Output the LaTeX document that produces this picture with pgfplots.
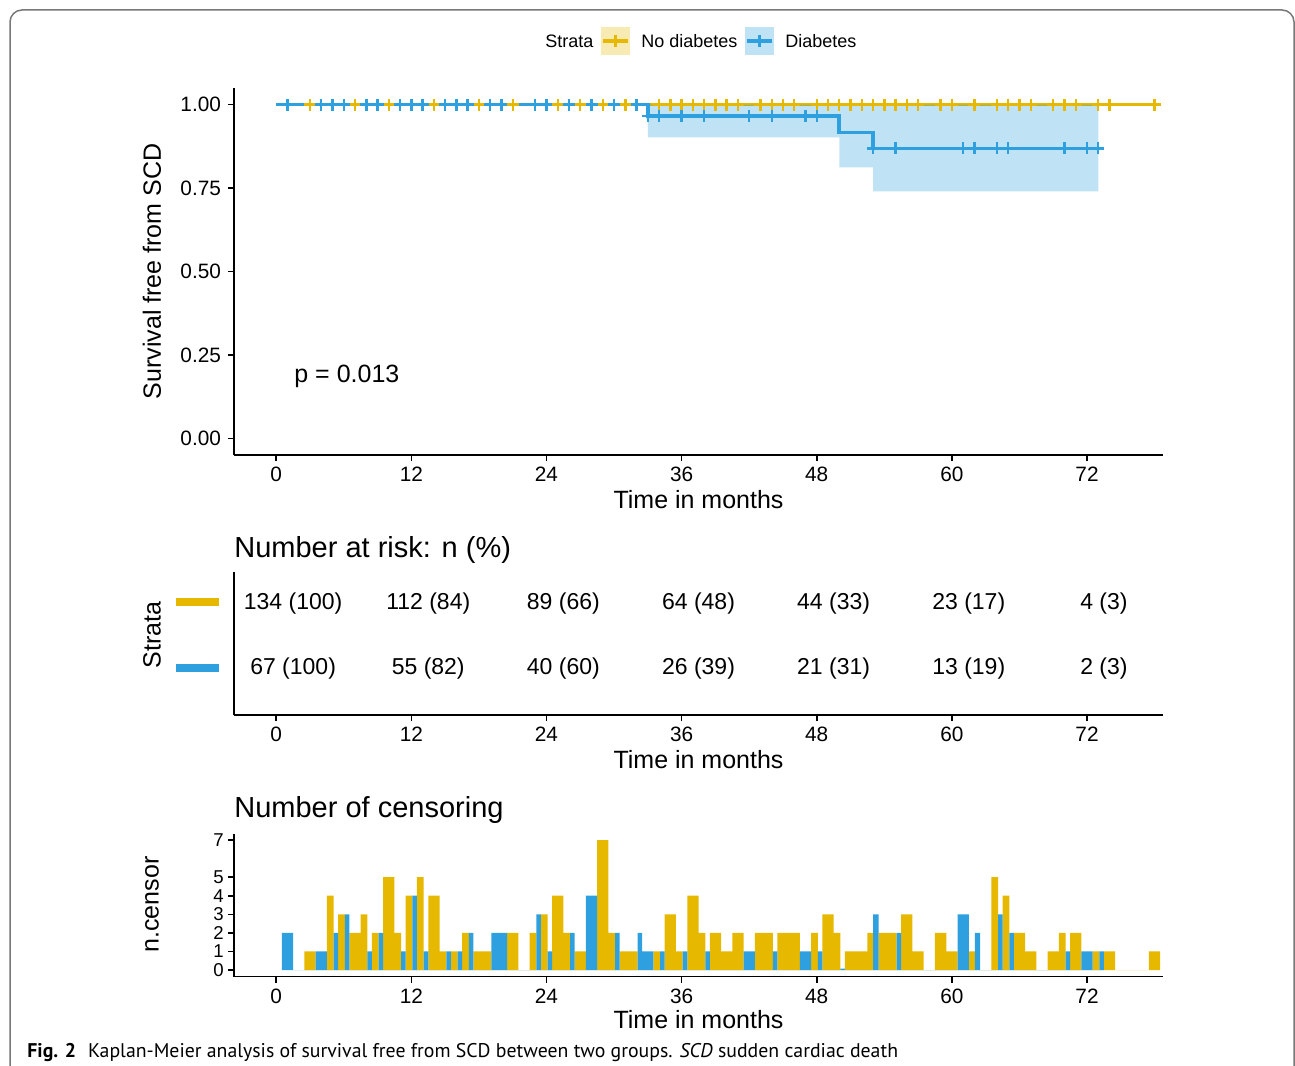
\documentclass[border=0pt]{standalone}
\usepackage{fontspec}
\setmainfont{Liberation Sans}
\newfontfamily\capfont{PT Sans}
\usepackage{pgfplots}
\pgfplotsset{compat=1.18}

\definecolor{kmY}{HTML}{E7B800}
\definecolor{kmB}{HTML}{2E9FDF}
\definecolor{kmYl}{RGB}{248,234,179}
\definecolor{kmBl}{RGB}{192,226,245}
\definecolor{framegray}{RGB}{120,120,120}

\newcommand{\fs}[1]{\fontsize{#1}{#1}\selectfont}

\pgfplotsset{
  survbase/.style={
    scale only axis,
    width=464.5pt,
    xmin=-3.75, xmax=78.75,
    xtick={0,12,24,36,48,60,72},
    axis x line*=bottom,
    axis y line*=left,
    axis line style={black, line width=0.9pt},
    tick style={black, line width=0.8pt},
    tick align=outside,
    major tick length=3pt,
    tick label style={font=\fs{10.4}, text=black},
    xticklabel style={yshift=0.5pt},
    /pgf/number format/assume math mode=true,
  }
}

\begin{document}
\begin{tikzpicture}
\useasboundingbox (0,0) rectangle (647.5pt,-532.5pt);

% survival curves
\begin{axis}[survbase,
  at={(117pt,-227.5pt)}, anchor=south west,
  height=183.5pt,
  ymin=-0.05, ymax=1.05,
  ytick={0,0.25,0.5,0.75,1},
  yticklabels={0.00,0.25,0.50,0.75,1.00},
]
\addplot[const plot, kmY, line width=1.8pt] coordinates {(0,1) (78,1)};
\addplot[only marks, mark=+, mark size=3pt, kmY, mark options={line width=1.2pt}] coordinates {
 (3,1) (5,1) (6,1) (7,1) (8,1) (9,1) (10,1) (11,1) (12,1) (13,1) (14,1) (15,1) (16,1) (17,1)
 (18,1) (19,1) (21,1) (23,1) (24,1) (25,1) (26,1) (27,1) (29,1) (30,1) (31,1) (32,1) (34,1)
 (35,1) (36,1) (37,1) (38,1) (39,1) (40,1) (41,1) (43,1) (44,1) (45,1) (46,1) (48,1) (49,1)
 (50,1) (51,1) (52,1) (53,1) (54,1) (55,1) (56,1) (57,1) (59,1) (60,1) (62,1) (64,1) (65,1)
 (66,1) (67,1) (69,1) (70,1) (71,1) (73,1) (74,1) (78,1)};
% confidence band, diabetes
\addplot[draw=none, fill=kmB, fill opacity=0.3] coordinates {
 (33,1) (73,1) (73,0.740) (53,0.740) (53,0.812) (50,0.812) (50,0.902) (33,0.902)} -- cycle;
\addplot[const plot, kmB, line width=1.8pt] coordinates {
 (0,1) (33,0.9655) (50,0.9172) (53,0.8689) (73,0.8689)};
\addplot[only marks, mark=+, mark size=3pt, kmB, mark options={line width=1.2pt}] coordinates {
 (1,1) (4,1) (5,1) (6,1) (8,1) (9,1) (11,1) (12,1) (13,1) (15,1) (16,1) (17,1) (19,1) (20,1)
 (23,1) (24,1) (26,1) (28,1) (30,1) (32,1)
 (33,0.9655) (34,0.9655) (36,0.9655) (38,0.9655) (42,0.9655) (44,0.9655) (47,0.9655) (48,0.9655)
 (53,0.8689) (55,0.8689) (61,0.8689) (62,0.8689) (64,0.8689) (65,0.8689) (70,0.8689)
 (72,0.8689) (73,0.8689)};
\end{axis}

% number at risk
\begin{axis}[survbase,
  at={(117pt,-357.5pt)}, anchor=south west,
  height=71.5pt,
  ymin=0.246, ymax=2.446,
  ytick=\empty,
]
\addplot[draw=none, mark=none, nodes near coords, point meta=explicit symbolic,
  nodes near coords align={center},
  every node near coord/.append style={font=\fs{11.5}, text=black, inner sep=0pt, yshift=-1.5pt}]
  coordinates {
 (1.5,2) [134 (100)] (13.5,2) [112 (84)] (25.5,2) [89 (66)] (37.5,2) [64 (48)]
 (49.5,2) [44 (33)] (61.5,2) [23 (17)] (73.5,2) [4 (3)]
 (1.5,1) [67 (100)] (13.5,1) [55 (82)] (25.5,1) [40 (60)] (37.5,1) [26 (39)]
 (49.5,1) [21 (31)] (61.5,1) [13 (19)] (73.5,1) [2 (3)]};
\end{axis}

% number of censoring
\begin{axis}[survbase,
  at={(117pt,-488.25pt)}, anchor=south west,
  height=71.5pt,
  ymin=-0.35, ymax=7.35,
  ytick={0,1,2,3,4,5,7},
  yticklabel style={font=\fs{9.3}, inner sep=0pt, xshift=-2pt},
]
\addplot[const plot, fill=kmY, draw=none] coordinates {
 (2.5,1) (3.5,0) (4.5,4) (5.1,0) (5.5,3) (6.1,0) (6.5,2) (7.5,3) (8.1,0) (8.5,2) (9.1,0)
 (9.5,5) (10.5,2) (11.1,0) (11.5,4) (12.1,0) (12.5,5) (13.1,0) (13.5,4) (14.5,1) (15.1,0)
 (15.5,1) (16.1,0) (16.5,2) (17.1,0) (17.5,1) (19.1,0) (20.5,2) (21.5,0) (22.5,2) (23.1,0)
 (23.5,3) (24.1,0) (24.5,4) (25.5,2) (26.1,0) (26.5,1) (27.5,0) (28.5,7) (29.5,2) (30.1,0)
 (30.5,1) (32.1,0) (33.5,1) (34.1,0) (34.5,3) (35.5,1) (36.1,0) (36.5,4) (37.5,2) (38.1,0)
 (38.5,2) (39.5,1) (40.5,2) (41.5,0) (42.5,2) (44.1,0) (44.5,2) (46.5,0) (47.5,2) (48.1,0)
 (48.5,3) (49.5,2) (50.1,0) (50.5,1) (52.5,2) (53.0,0) (53.5,2) (55.1,0) (55.5,3) (56.5,1)
 (57.5,0) (58.5,2) (59.5,1) (60.5,0) (61.5,1) (62.05,0) (63.5,5) (64.1,0) (64.5,4) (65.1,0)
 (65.5,2) (66.5,1) (67.5,0) (68.5,1) (69.5,2) (70.1,0) (70.5,2) (71.5,0) (72.5,1) (73.1,0)
 (73.5,1) (74.5,0) (77.5,1) (78.5,0)} \closedcycle;
\addplot[const plot, fill=kmB, draw=none] coordinates {
 (0.5,2) (1.5,0) (3.5,1) (4.5,0) (5.1,2) (5.5,0) (6.1,3) (6.5,0) (8.1,1) (8.5,0) (9.1,2)
 (9.5,0) (11.1,1) (11.5,0) (12.1,4) (12.5,0) (13.1,1) (13.5,0) (15.1,1) (15.5,0) (16.1,1)
 (16.5,0) (17.1,2) (17.5,0) (19.1,2) (20.5,0) (23.1,3) (23.5,0) (24.1,1) (24.5,0) (26.1,2)
 (26.5,0) (27.5,4) (28.5,0) (30.1,2) (30.5,0) (32.1,2) (32.5,1) (33.5,0) (34.1,1) (34.5,0)
 (36.1,1) (36.5,0) (38.1,1) (38.5,0) (41.5,1) (42.5,0) (44.1,1) (44.5,0) (46.5,1) (47.5,0)
 (48.1,1) (48.5,0) (50.1,0.07) (50.5,0) (53.0,3) (53.5,0) (55.1,2) (55.5,0) (60.5,3)
 (61.5,0) (62.05,2) (62.5,0) (64.1,3) (64.5,0) (65.1,2) (65.5,0) (70.1,1) (70.5,0) (71.5,1)
 (72.5,0) (73.1,1) (73.5,0)} \closedcycle;
\end{axis}

\begin{scope}[x=0.5pt, y=-0.5pt]
% frame
\draw[framegray, line width=0.75pt, rounded corners=6pt] (10,1090) -- (10,10) -- (1294,10) -- (1294,1090);
% legend
\node[anchor=base west, inner sep=0pt, font=\fs{9}] at (545,47.5) {Strata};
\fill[kmYl] (601,27) rectangle (630,55);
\draw[kmY, line width=1.8pt] (603,41) -- (628,41);
\draw[kmY, line width=1.2pt] (615.5,35) -- (615.5,47);
\node[anchor=base west, inner sep=0pt, font=\fs{9}] at (641,47.5) {No diabetes};
\fill[kmBl] (745,27) rectangle (774,55);
\draw[kmB, line width=1.8pt] (747,41) -- (772,41);
\draw[kmB, line width=1.2pt] (759.5,35) -- (759.5,47);
\node[anchor=base west, inner sep=0pt, font=\fs{9}] at (785,47.5) {Diabetes};
% axis titles
\node[font=\fs{12.5}] at (698.5,500) {Time in months};
\node[font=\fs{12.5}] at (698.5,760) {Time in months};
\node[font=\fs{12.5}] at (698.5,1020) {Time in months};
\node[font=\fs{12.5}, rotate=90] at (152,271.5) {Survival free from SCD};
\node[font=\fs{12.5}, rotate=90] at (152,635) {Strata};
\node[font=\fs{12.5}, rotate=90] at (152,904.5) {n.censor};
\node[anchor=base west, inner sep=0pt, font=\fs{12.5}] at (294,382) {p = 0.013};
\node[anchor=base west, inner sep=0pt, font=\fs{14.5}] at (234,557.5) {Number at risk: n (\%)};
\node[anchor=base west, inner sep=0pt, font=\fs{14.5}] at (234,817.5) {Number of censoring};
% strata keys of the risk table
\draw[kmY, line width=3.8pt] (176,602) -- (219,602);
\draw[kmB, line width=3.8pt] (176,668) -- (219,668);
% caption
\node[anchor=base west, inner sep=0pt, font=\capfont\fs{9.9}] at (27,1057)
  {\textbf{Fig. 2}\hspace{6pt}Kaplan-Meier analysis of survival free from SCD between two groups. \textit{SCD} sudden cardiac death};
\end{scope}
\end{tikzpicture}
\end{document}
